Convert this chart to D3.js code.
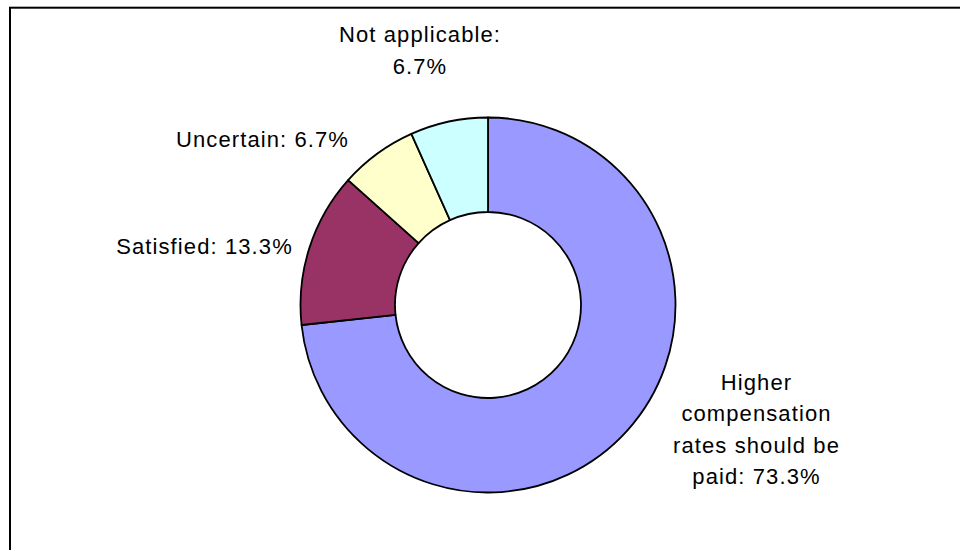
<!DOCTYPE html>
<html><head><meta charset="utf-8">
<script src="https://cdn.jsdelivr.net/npm/d3@7"></script>
<style>html,body{margin:0;padding:0;background:#fff;}svg{display:block;}</style>
</head><body>
<script>
const categories = ["Higher compensation rates should be paid", "Satisfied", "Uncertain", "Not applicable"];
const values = [73.3, 13.3, 6.7, 6.7];
const labelTexts = [["Higher", "compensation", "rates should be", "paid: 73.3%"], ["Satisfied: 13.3%"], ["Uncertain: 6.7%"], ["Not applicable:", "6.7%"]];
const colors = ["#9999FF", "#993366", "#FFFFCC", "#CCFFFF"];

const W = 960, H = 550;
const cx = 488, cy = 305, rOuter = 187.5, rInner = 93;
// label anchor (center x, first baseline y)
const labelLayout = [[756.5, 389.5], [204.5, 254.3], [262.5, 146.7], [420, 42.3]];

const svg = d3.select("body").append("svg").attr("width", W).attr("height", H);
svg.append("rect").attr("x", 10).attr("y", 7.7).attr("width", 1000).attr("height", 600)
  .attr("fill", "#fff").attr("stroke", "#000").attr("stroke-width", 2);

const pie = d3.pie().sort(null).value(d => d)(values);
const arc = d3.arc().innerRadius(rInner).outerRadius(rOuter);
const g = svg.append("g").attr("transform", `translate(${cx},${cy})`);
g.selectAll("path").data(pie).join("path")
  .attr("d", arc).attr("fill", (d, i) => colors[i])
  .attr("stroke", "#000").attr("stroke-width", 1.8).attr("stroke-linejoin", "round");

const lineH = 31.5;
labelTexts.forEach((lines, i) => {
  const t = svg.append("text").attr("text-anchor", "middle")
    .attr("font-family", "Liberation Sans, Arial, sans-serif").attr("font-size", 22)
    .attr("letter-spacing", 1.1).attr("fill", "#000");
  lines.forEach((ln, j) => {
    t.append("tspan").attr("x", labelLayout[i][0]).attr("y", labelLayout[i][1] + j * lineH).text(ln);
  });
});
</script>
</body></html>
